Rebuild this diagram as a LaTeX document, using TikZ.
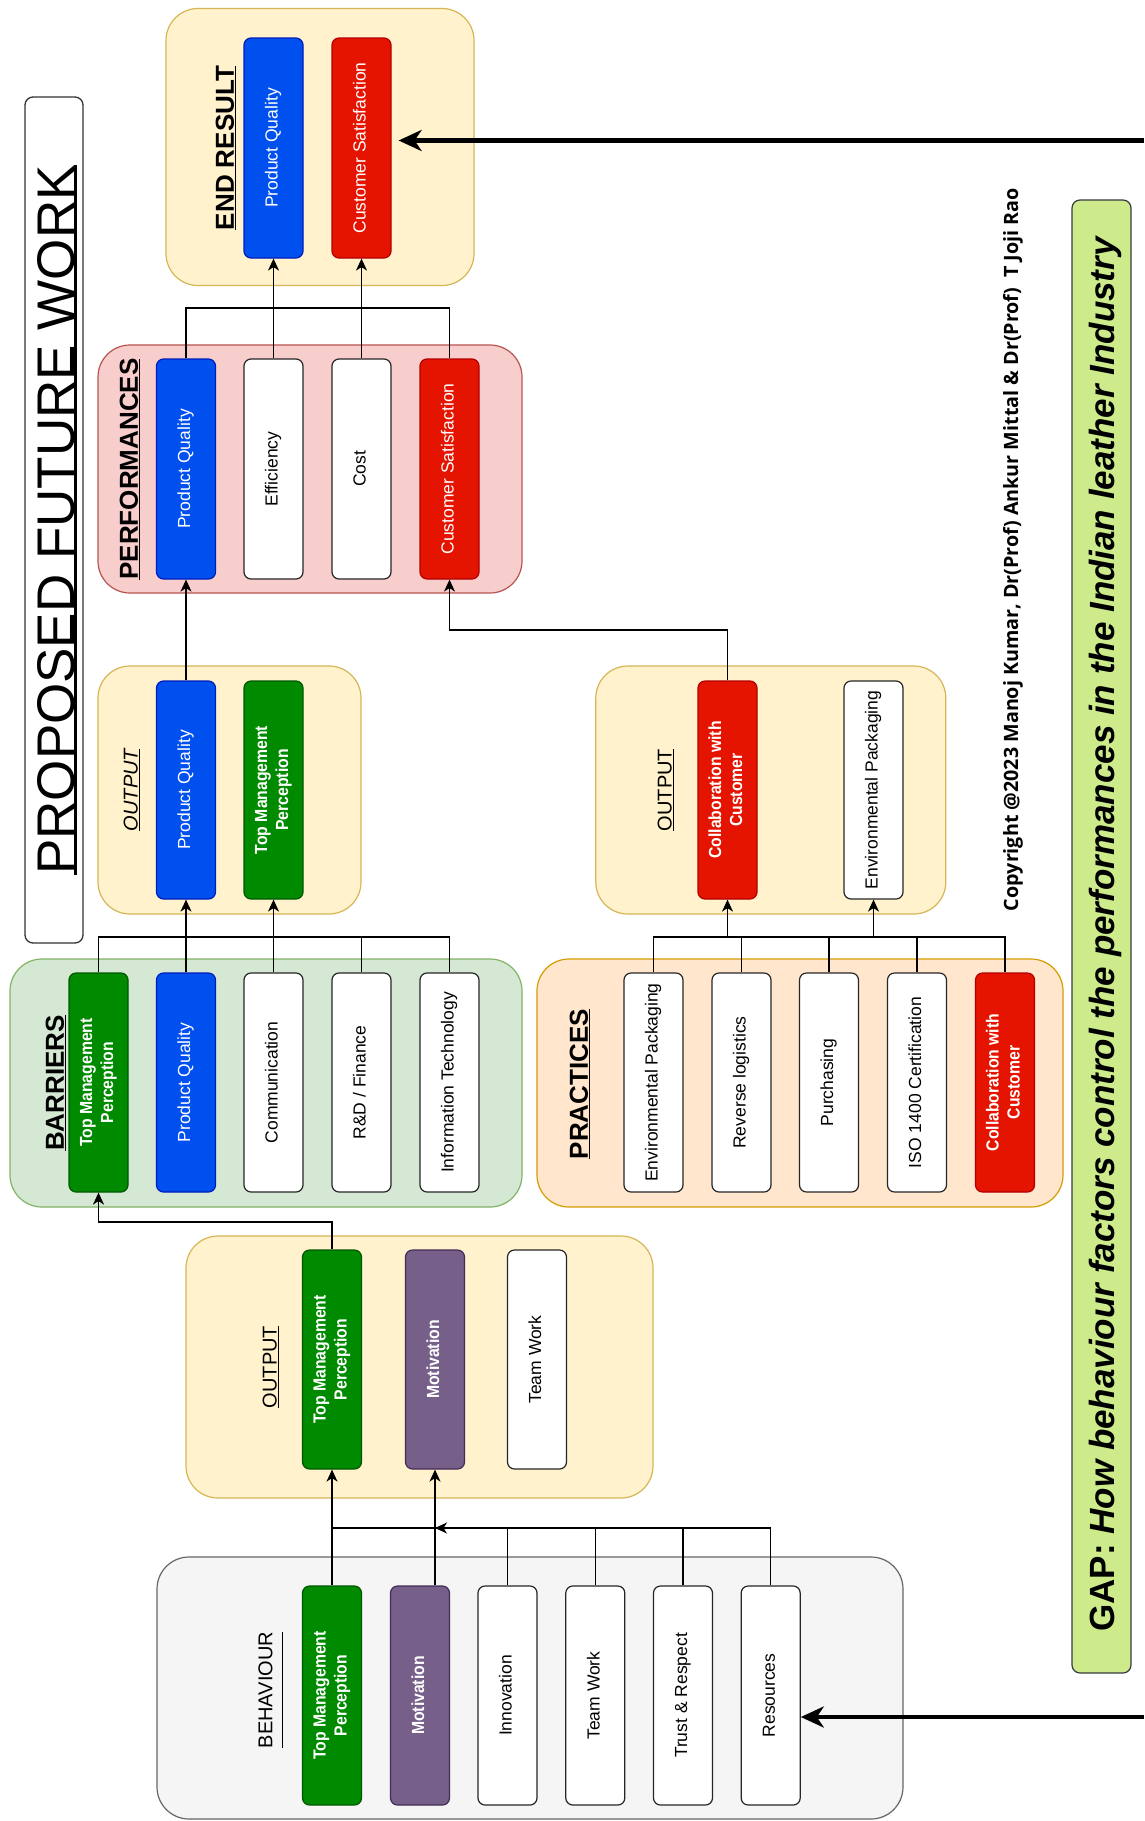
\documentclass[tikz,border=0pt]{standalone}
\usepackage{fontspec}
\setmainfont{Liberation Sans}
\newfontfamily\creditfont{Open Sans}
\usepackage{graphicx}
\usetikzlibrary{arrows.meta}

% palette
\definecolor{yelF}{HTML}{FFF2CC}\definecolor{yelD}{HTML}{D6B656}
\definecolor{pinkF}{HTML}{F8CECC}\definecolor{pinkD}{HTML}{B85450}
\definecolor{grnF}{HTML}{D5E8D4}\definecolor{grnD}{HTML}{82B366}
\definecolor{orgF}{HTML}{FFE6CC}\definecolor{orgD}{HTML}{D79B00}
\definecolor{gryF}{HTML}{F5F5F5}\definecolor{gryD}{HTML}{666666}
\definecolor{bluF}{HTML}{0050EF}\definecolor{bluD}{HTML}{001DBC}
\definecolor{redF}{HTML}{E51400}\definecolor{redD}{HTML}{B20000}
\definecolor{dgF}{HTML}{008A00}\definecolor{dgD}{HTML}{005700}
\definecolor{purF}{HTML}{76608A}\definecolor{purD}{HTML}{432D57}
\definecolor{limeF}{HTML}{CDEB8B}\definecolor{limeD}{HTML}{36393D}

% underline with chosen thickness (#1) and drop below baseline (#2)
\newsavebox\ulbox
\newcommand{\ulx}[3]{\sbox\ulbox{#3}\usebox\ulbox\llap{\rule[-#2]{\wd\ulbox}{#1}}}
% text running bottom to top
\newcommand{\vtext}[1]{\rotatebox{90}{\begin{tabular}{@{}c@{}}#1\end{tabular}}}
% condensed bold variant
\newcommand{\vtextb}[1]{\rotatebox{90}{\scalebox{0.9}[1]{\bfseries\begin{tabular}{@{}c@{}}#1\end{tabular}}}}

\tikzset{
  group/.style={rounded corners=32pt, line width=1.2pt, inner sep=0pt},
  yelgrp/.style={group, draw=yelD, fill=yelF},
  pinkgrp/.style={group, draw=pinkD, fill=pinkF},
  grngrp/.style={group, draw=grnD, fill=grnF},
  orggrp/.style={group, draw=orgD, fill=orgF},
  grygrp/.style={group, draw=gryD, fill=gryF},
  card/.style={rounded corners=7pt, line width=1.2pt, inner sep=0pt,
    minimum width=59pt, minimum height=219pt, font=\fontsize{17.5}{21}\selectfont},
  bluecard/.style={card, draw=bluD, fill=bluF, text=white},
  redcard/.style={card, draw=redD, fill=redF, text=white},
  greencard/.style={card, draw=dgD, fill=dgF, text=white},
  purplecard/.style={card, draw=purD, fill=purF, text=white},
  plaincard/.style={card, draw=black!85, fill=white, text=black},
  hdr/.style={inner sep=0pt, font=\fontsize{26}{30}\selectfont\bfseries},
  subhdr/.style={inner sep=0pt, font=\fontsize{20}{24}\selectfont},
  wire/.style={line width=1.3pt, draw=black},
  arr/.style={wire, -{Stealth[length=12pt,width=11pt,inset=3.5pt]}},
  bigarr/.style={line width=4.5pt, draw=black, -{Stealth[length=23pt,width=21pt,inset=7pt]}}
}

\begin{document}
\begin{tikzpicture}[x=1pt,y=-1pt]
\useasboundingbox[fill=white] (0,0) rectangle (1144,1821);

% ---------- title ----------
\node[draw=black!80, line width=1.3pt, rounded corners=8pt, minimum width=58pt,
      minimum height=846pt, inner sep=0pt] (titleBox) at (54,520) {};
\node[inner sep=0pt, font=\fontsize{53}{60}\selectfont] (title) at (57,520)
  {\rotatebox{90}{\ulx{3.5pt}{3pt}{PROPOSED FUTURE WORK}}};

% ---------- containers ----------
\node[yelgrp, minimum width=308pt, minimum height=277pt] (endC) at (320,147) {};
\node[pinkgrp, minimum width=424pt, minimum height=248pt] (perfC) at (310,469) {};
\node[yelgrp, minimum width=263pt, minimum height=248pt] (outA) at (229.5,790) {};
\node[yelgrp, minimum width=350pt, minimum height=248pt] (outB) at (770.8,790) {};
\node[grngrp, minimum width=512pt, minimum height=248pt] (barC) at (266,1083) {};
\node[orggrp, minimum width=526pt, minimum height=248pt] (pracC) at (800,1083) {};
\node[yelgrp, minimum width=467pt, minimum height=262pt] (outC) at (419.5,1367) {};
\node[grygrp, minimum width=746pt, minimum height=262pt] (behC) at (530,1688) {};

% ---------- section headings ----------
\node[hdr] (hEnd) at (226,148) {\rotatebox{90}{\ulx{1.6pt}{2.5pt}{END RESULT}}};
\node[hdr] (hPerf) at (130,469) {\rotatebox{90}{\ulx{1.6pt}{2.5pt}{PERFORMANCES}}};
\node[hdr] (hBar) at (56,1083) {\rotatebox{90}{\ulx{1.6pt}{2.5pt}{BARRIERS}}};
\node[hdr] (hPrac) at (580,1084) {\rotatebox{90}{\ulx{1.6pt}{2.5pt}{PRACTICES}}};
\node[subhdr, font=\fontsize{20}{24}\selectfont\itshape] (hOutA) at (132,790)
  {\rotatebox{90}{\ulx{1.2pt}{2.5pt}{OUTPUT}}};
\node[subhdr] (hOutB) at (666,790) {\rotatebox{90}{\ulx{1.2pt}{2.5pt}{OUTPUT}}};
\node[subhdr] (hOutC) at (271,1367) {\rotatebox{90}{\ulx{1.2pt}{2.5pt}{OUTPUT}}};
\node[subhdr] (hBeh) at (271,1690) {\rotatebox{90}{\ulx{1.2pt}{11pt}{BEHAVIOUR}}};

% ---------- end result ----------
\node[bluecard, minimum height=220pt] (ePQ) at (273.5,148) {\vtext{Product Quality}};
\node[redcard, minimum height=220pt] (eCS) at (361.5,148) {\vtext{Customer Satisfaction}};

% ---------- performances ----------
\node[bluecard, minimum height=220pt] (pPQ) at (186,469) {\vtext{Product Quality}};
\node[plaincard, minimum height=220pt] (pEff) at (273.5,469) {\vtext{Efficiency}};
\node[plaincard, minimum height=220pt] (pCost) at (361.5,469) {\vtext{Cost}};
\node[redcard, minimum height=220pt] (pCS) at (449.5,469) {\vtext{Customer Satisfaction}};

% ---------- outputs of barriers and practices ----------
\node[bluecard, minimum height=218pt] (oPQ) at (186,790) {\vtext{Product Quality}};
\node[greencard, minimum height=218pt] (oTMP) at (273.5,790) {\vtextb{Top Management\\Perception}};
\node[redcard, minimum height=218pt] (oCol) at (727.5,790) {\vtextb{Collaboration with\\Customer}};
\node[plaincard, minimum height=218pt] (oEP) at (873.5,790) {\vtext{Environmental Packaging}};

% ---------- barriers ----------
\node[greencard] (bTMP) at (98.5,1082.5) {\vtextb{Top Management\\Perception}};
\node[bluecard] (bPQ) at (186,1082.5) {\vtext{Product Quality}};
\node[plaincard] (bCom) at (273.5,1082.5) {\vtext{Communication}};
\node[plaincard] (bRD) at (361.5,1082.5) {\vtext{R\&D / Finance}};
\node[plaincard] (bIT) at (449.5,1082.5) {\vtext{Information Technology}};

% ---------- practices ----------
\node[plaincard] (prEP) at (653.5,1082.5) {\vtext{Environmental Packaging}};
\node[plaincard] (prRL) at (741.5,1082.5) {\vtext{Reverse logistics}};
\node[plaincard] (prPu) at (829,1082.5) {\vtext{Purchasing}};
\node[plaincard] (prISO) at (917,1082.5) {\vtext{ISO 1400 Certification}};
\node[redcard] (prCol) at (1005,1082.5) {\vtextb{Collaboration with\\Customer}};

% ---------- output of behaviour ----------
\node[greencard] (boTMP) at (332,1359.5) {\vtextb{Top Management\\Perception}};
\node[purplecard] (boMot) at (435,1359.5) {\vtextb{Motivation}};
\node[plaincard] (boTW) at (537,1359.5) {\vtext{Team Work}};

% ---------- behaviour ----------
\node[greencard] (beTMP) at (332,1695.5) {\vtextb{Top Management\\Perception}};
\node[purplecard] (beMot) at (420,1695.5) {\vtextb{Motivation}};
\node[plaincard] (beInn) at (507.5,1695.5) {\vtext{Innovation}};
\node[plaincard] (beTW) at (595.3,1695.5) {\vtext{Team Work}};
\node[plaincard] (beTR) at (683,1695.5) {\vtext{Trust \& Respect}};
\node[plaincard] (beRes) at (770.7,1695.5) {\vtext{Resources}};

% ---------- credit line and research gap ----------
\node[inner sep=0pt] (credit) at (1013,549.5)
  {\rotatebox{90}{\resizebox{723pt}{!}{\creditfont\bfseries Copyright @2023 Manoj Kumar, Dr(Prof) Ankur Mittal \& Dr(Prof)\ \ T Joji Rao}}};
\node[draw=limeD, fill=limeF, rounded corners=8pt, line width=1.2pt, minimum width=59pt,
      minimum height=1473pt, inner sep=0pt] (gapBox) at (1101.5,936.5) {};
\node[inner sep=0pt, font=\fontsize{35}{40}\selectfont\bfseries] (gapText) at (1105,934.5)
  {\rotatebox{90}{GAP: \itshape How behaviour factors control the performances in the Indian leather Industry}};

% ---------- connectors ----------
\coordinate (topIn) at (1144,140.5);
\coordinate (botIn) at (1144,1717);
\draw[bigarr, shorten >=7pt] (topIn) -- (topIn -| eCS.east);
\draw[bigarr] (botIn) -- (botIn -| beRes.east);

% performances -> end result
\draw[wire] (pPQ.north) -- (pPQ.north |- 0,308) -| (pCS.north);
\draw[arr] (pEff.north) -- (ePQ.south);
\draw[arr] (pCost.north) -- (eCS.south);

% outputs -> performances
\draw[arr] (oPQ.north) -- (pPQ.south);
\draw[arr] (oCol.north) -- (oCol.north |- 0,630) -| (pCS.south);

% barriers -> output
\draw[wire] (bTMP.north) -- (bTMP.north |- 0,937) -| (bIT.north);
\draw[wire] (bRD.north) -- (bRD.north |- 0,937);
\draw[arr] (bPQ.north) -- (oPQ.south);
\draw[arr] (bCom.north) -- (oTMP.south);

% practices -> output
\draw[wire] (prEP.north) -- (prEP.north |- 0,937) -| (prCol.north);
\foreach \n in {prRL,prPu,prISO} \draw[wire] (\n.north) -- (\n.north |- 0,937);
\draw[arr] (oCol.south |- 0,937) -- (oCol.south);
\draw[arr] (oEP.south |- 0,937) -- (oEP.south);

% behaviour output -> barriers
\draw[arr] (boTMP.north) -- (boTMP.north |- 0,1222) -| (bTMP.south);

% behaviour -> output
\draw[arr] (beTMP.north) -- (boTMP.south);
\draw[arr] (boMot.south |- beMot.north) -- (boMot.south);
\foreach \n in {beInn,beTW,beTR} \draw[wire] (\n.north) -- (\n.north |- 0,1528);
\draw[wire] (beRes.north) -- (beRes.north |- 0,1528) -- (boTMP.south |- 0,1528);
\draw[arr] (beRes.north |- 0,1528) -- (boMot.south |- 0,1528);
\end{tikzpicture}
\end{document}
